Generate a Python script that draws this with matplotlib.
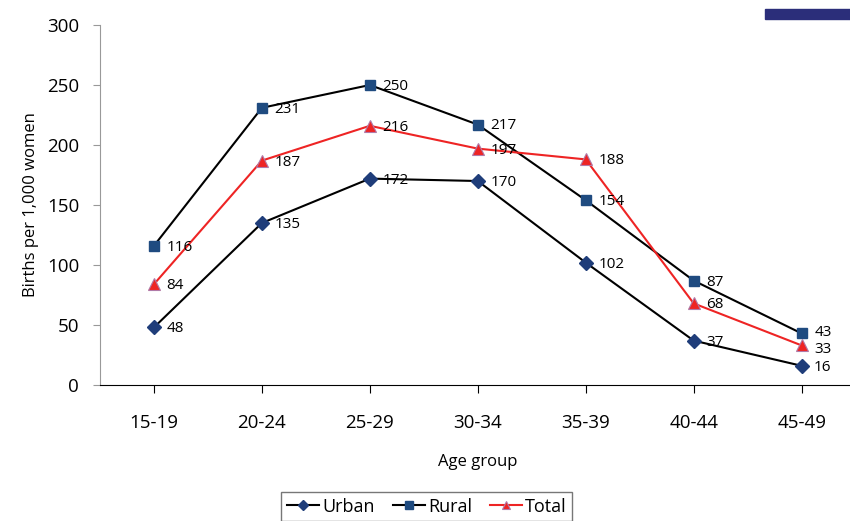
import numpy as np
import matplotlib.pyplot as plt
from matplotlib.patches import Rectangle

plt.rcParams['font.family'] = ['Open Sans', 'DejaVu Sans']

ageGroups = ['15-19', '20-24', '25-29', '30-34', '35-39', '40-44', '45-49']
urban = [48, 135, 172, 170, 102, 37, 16]
rural = [116, 231, 250, 217, 154, 87, 43]
total = [84, 187, 216, 197, 188, 68, 33]

fig = plt.figure(figsize=(8.5, 5.21), dpi=100)
ax = fig.add_axes([0.1176, 0.261, 0.889, 0.691])

xVals = np.arange(len(ageGroups))
ax.plot(xVals, urban, color='black', lw=1.5, marker='D', ms=7,
        mfc='#1f3d7a', mec='#1f3d7a', label='Urban')
ax.plot(xVals, rural, color='black', lw=1.5, marker='s', ms=7,
        mfc='#1f4b80', mec='#1f4b80', label='Rural')
ax.plot(xVals, total, color='#ee2424', lw=1.5, marker='^', ms=8,
        mfc='#ee2424', mec='#b07aa8', mew=0.8, label='Total')

# last points of rural/total sit close together, nudge them apart a little
for series, lastShift in [(urban, 0), (rural, 1.5), (total, -2)]:
    for i, (x, y) in enumerate(zip(xVals, series)):
        dy = -1 + (lastShift if i == len(series) - 1 else 0)
        ax.annotate(str(y), (x, y), xytext=(9, dy), textcoords='offset points',
                    ha='left', va='center', fontsize=11)

ax.set_xlim(-0.5, 6.5)
ax.set_ylim(0, 300)
ax.set_yticks(range(0, 301, 50))
ax.set_xticks(xVals)
ax.set_xticklabels(ageGroups)
ax.tick_params(axis='y', labelsize=13.5, color='#999999', length=5, direction='out', pad=10)
ax.tick_params(axis='x', labelsize=13.5, length=6, direction='out', pad=15)
ax.spines['top'].set_visible(False)
ax.spines['right'].set_visible(False)
ax.spines['left'].set_color('#999999')
ax.spines['bottom'].set_color('black')

ax.set_xlabel('Age group', fontsize=12, labelpad=16)
ax.set_ylabel('Births per 1,000 women', fontsize=12, labelpad=6)

leg = ax.legend(loc='upper center', bbox_to_anchor=(0.4325, -0.298), ncol=3,
                fontsize=13, frameon=True, fancybox=False, handlelength=1.8,
                markerscale=0.8, handletextpad=0.15, columnspacing=1.0,
                borderpad=0.3, borderaxespad=0)
leg.get_frame().set_edgecolor('#555555')
leg.get_frame().set_linewidth(1.0)

fig.patches.append(Rectangle((0.9, 0.963), 0.1, 0.019, transform=fig.transFigure,
                             color='#2b2e7a', zorder=5))

fig.savefig('out.png', dpi=100)
